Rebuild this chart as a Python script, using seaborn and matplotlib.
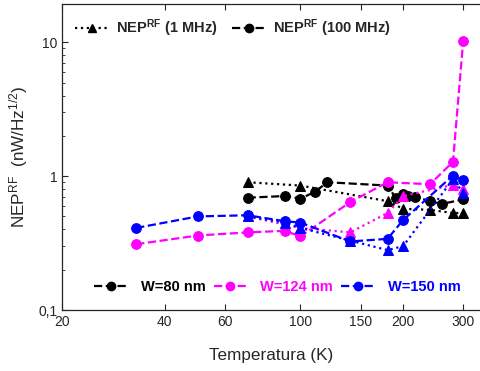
import matplotlib
matplotlib.use("Agg")
import matplotlib.pyplot as plt
import seaborn as sns
from matplotlib.lines import Line2D
from matplotlib.ticker import FixedLocator, FixedFormatter, NullFormatter, LogLocator

# W=80 nm
t80_1mhz = [70, 100, 180, 200, 240, 280, 300]
nep80_1mhz = [0.90, 0.85, 0.65, 0.57, 0.56, 0.53, 0.53]
t80_100mhz = [70, 90, 100, 110, 120, 180, 190, 200, 207, 217, 240, 260, 300]
nep80_100mhz = [0.69, 0.71, 0.68, 0.76, 0.90, 0.85, 0.69, 0.73, 0.71, 0.70, 0.65, 0.62, 0.67]

# W=124 nm
t124_1mhz = [70, 100, 140, 180, 200, 280, 300]
nep124_1mhz = [0.50, 0.41, 0.38, 0.53, 0.71, 0.86, 0.80]
t124_100mhz = [33, 50, 70, 90, 100, 140, 180, 240, 280, 300]
nep124_100mhz = [0.31, 0.36, 0.38, 0.39, 0.355, 0.64, 0.90, 0.87, 1.28, 10.3]

# W=150 nm
t150_1mhz = [70, 90, 100, 140, 180, 200, 280, 300]
nep150_1mhz = [0.50, 0.45, 0.41, 0.33, 0.28, 0.30, 0.95, 0.75]
t150_100mhz = [33, 50, 70, 90, 100, 140, 180, 200, 280, 300]
nep150_100mhz = [0.41, 0.50, 0.51, 0.46, 0.45, 0.325, 0.34, 0.47, 1.01, 0.94]

widths = ["W=80 nm", "W=124 nm", "W=150 nm"]
colors = ["black", "#ff00ff", "#0000ff"]

xticks = [20, 40, 60, 100, 150, 200, 300]
yticks = [0.1, 1, 10]
yticklabels = ["0,1", "1", "10"]

sns.set_style("ticks")
plt.rcParams["font.family"] = ["Liberation Sans", "DejaVu Sans"]
plt.rcParams["mathtext.fontset"] = "custom"
plt.rcParams["mathtext.rm"] = "Liberation Sans"
plt.rcParams["mathtext.it"] = "Liberation Sans"
plt.rcParams["mathtext.bf"] = "Liberation Sans:bold"

fig = plt.figure(figsize=(4.8, 3.71), dpi=100)
ax = fig.add_axes([62 / 480, 1 - 310 / 371, (480 - 62) / 480, (310 - 4) / 371])

series = [
    (t80_1mhz, nep80_1mhz, t80_100mhz, nep80_100mhz),
    (t124_1mhz, nep124_1mhz, t124_100mhz, nep124_100mhz),
    (t150_1mhz, nep150_1mhz, t150_100mhz, nep150_100mhz),
]

for (t1, n1, t2, n2), c in zip(series, colors):
    sns.lineplot(x=t1, y=n1, ax=ax, color=c, linestyle=":", marker="^",
                 markersize=7, markeredgecolor=c, linewidth=1.6,
                 estimator=None, sort=False, legend=False)
    sns.lineplot(x=t2, y=n2, ax=ax, color=c, linestyle="--", marker="o",
                 markersize=7, markeredgecolor=c, linewidth=1.6,
                 estimator=None, sort=False, legend=False)

ax.set_xscale("log")
ax.set_yscale("log")
ax.set_xlim(20, 336)
ax.set_ylim(0.1, 19.3)

ax.xaxis.set_major_locator(FixedLocator(xticks))
ax.xaxis.set_major_formatter(FixedFormatter([str(v) for v in xticks]))
ax.xaxis.set_minor_locator(FixedLocator([]))
ax.yaxis.set_major_locator(FixedLocator(yticks))
ax.yaxis.set_major_formatter(FixedFormatter(yticklabels))
ax.yaxis.set_minor_locator(LogLocator(base=10, subs=range(2, 10)))
ax.yaxis.set_minor_formatter(NullFormatter())

ax.tick_params(axis="both", which="major", direction="in", length=4, width=0.8,
               labelsize=10, top=True, right=False)
ax.tick_params(axis="both", which="minor", direction="in", length=2.5, width=0.6,
               top=True, right=False)
ax.spines["right"].set_visible(False)
for s in ["left", "bottom", "top"]:
    ax.spines[s].set_linewidth(0.9)

ax.set_xlabel("Temperatura (K)", fontsize=12.3, labelpad=14)
ax.set_ylabel(r"NEP$^{\rm RF}$  (nW/Hz$^{\rm 1/2}$)", fontsize=12.3, labelpad=6)

freq_handles = [
    Line2D([], [], color="black", linestyle=":", marker="^", markersize=6, linewidth=1.6),
    Line2D([], [], color="black", linestyle="--", marker="o", markersize=6, linewidth=1.6),
]
leg1 = ax.legend(freq_handles, [r"NEP$^{\mathbf{RF}}$ (1 MHz)", r"NEP$^{\mathbf{RF}}$ (100 MHz)"],
                 loc="upper left", bbox_to_anchor=(0.0, 1.0), ncol=2, frameon=False,
                 prop={"weight": "bold", "size": 10.5}, handlelength=2.3,
                 columnspacing=1.0, handletextpad=0.5)
ax.add_artist(leg1)

w_handles = [Line2D([], [], color=c, linestyle="--", marker="o", markersize=6, linewidth=1.6)
             for c in colors]
ax.legend(w_handles, widths, loc="lower center", bbox_to_anchor=(0.515, 0.01), ncol=3,
          frameon=False, prop={"weight": "bold", "size": 10.5}, labelcolor=colors,
          handlelength=2.3, columnspacing=0.55, handletextpad=0.9)

fig.savefig("out.png", dpi=100)
